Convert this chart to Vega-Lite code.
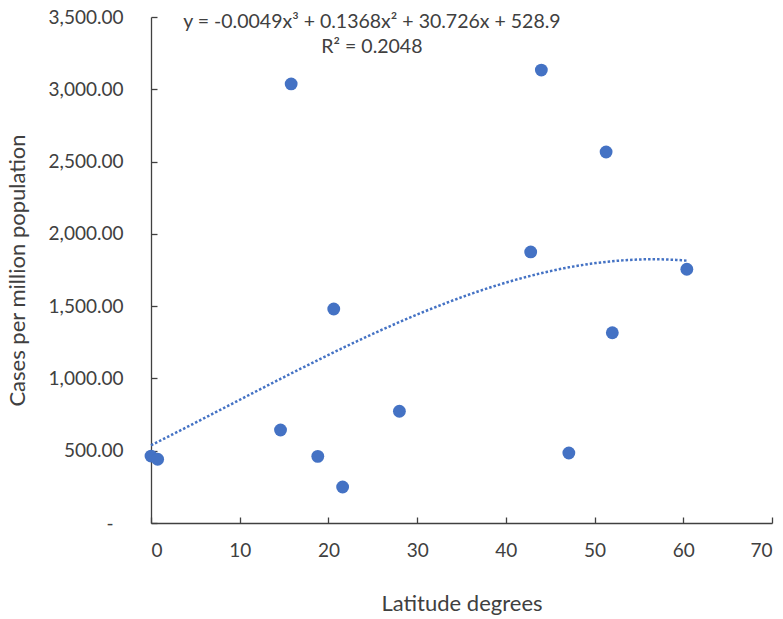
{
  "$schema": "https://vega.github.io/schema/vega-lite/v6.json",
  "autosize": "none",
  "width": 621,
  "height": 506,
  "padding": {"left": 151, "top": 17, "right": 11, "bottom": 96},
  "background": "white",
  "config": {
    "view": {"stroke": null},
    "font": "Lato",
    "axis": {
      "grid": false,
      "domainColor": "#404040",
      "domainWidth": 1.3,
      "tickColor": "#404040",
      "tickWidth": 1.3,
      "tickSize": -6,
      "labelFont": "Lato",
      "labelFontSize": 19,
      "labelColor": "#404040",
      "titleFont": "Lato",
      "titleFontSize": 22,
      "titleFontWeight": "normal",
      "titleColor": "#404040"
    }
  },
  "datasets": {
    "points": [
      {"lat": 0.0, "cases": 463},
      {"lat": 0.75, "cases": 441},
      {"lat": 14.6, "cases": 643},
      {"lat": 15.8, "cases": 3037},
      {"lat": 18.8, "cases": 461},
      {"lat": 20.6, "cases": 1480},
      {"lat": 21.6, "cases": 249},
      {"lat": 28.0, "cases": 773},
      {"lat": 42.8, "cases": 1875},
      {"lat": 44.0, "cases": 3133},
      {"lat": 47.1, "cases": 484},
      {"lat": 51.3, "cases": 2566},
      {"lat": 52.0, "cases": 1316},
      {"lat": 60.4, "cases": 1755}
    ],
    "notes": [
      {"lat": 24.9, "cases": 3465, "label": "y = -0.0049x³  + 0.1368x²  + 30.726x  + 528.9"},
      {"lat": 24.9, "cases": 3292, "label": "R² = 0.2048"}
    ]
  },
  "layer": [
    {
      "data": {"name": "points"},
      "transform": [
        {"regression": "cases", "on": "lat", "method": "poly", "order": 3}
      ],
      "mark": {"type": "line", "color": "#4472C4", "strokeWidth": 2.5, "strokeDash": [2.5, 2], "strokeCap": "butt"},
      "encoding": {
        "x": {"field": "lat", "type": "quantitative"},
        "y": {"field": "cases", "type": "quantitative"}
      }
    },
    {
      "data": {"name": "points"},
      "mark": {"type": "circle", "color": "#4472C4", "opacity": 1, "size": 165},
      "encoding": {
        "x": {
          "field": "lat", "type": "quantitative",
          "scale": {"domain": [0, 70], "nice": false, "zero": true},
          "axis": {"values": [0, 10, 20, 30, 40, 50, 60, 70], "title": "Latitude degrees", "labelPadding": 24, "titlePadding": 33}
        },
        "y": {
          "field": "cases", "type": "quantitative",
          "scale": {"domain": [0, 3500], "nice": false},
          "axis": {
            "values": [0, 500, 1000, 1500, 2000, 2500, 3000, 3500],
            "labelExpr": "datum.value == 0 ? '-' : format(datum.value, ',.2f')",
            "labelPadding": {"condition": {"test": "datum.value == 0", "value": 44}, "value": 34},
            "title": "Cases per million population",
            "titlePadding": 19
          }
        }
      }
    },
    {
      "data": {"name": "notes"},
      "mark": {"type": "text", "font": "Lato", "fontSize": 19.5, "color": "#404040", "align": "center", "baseline": "middle"},
      "encoding": {
        "x": {"field": "lat", "type": "quantitative"},
        "y": {"field": "cases", "type": "quantitative"},
        "text": {"field": "label"}
      }
    }
  ]
}
